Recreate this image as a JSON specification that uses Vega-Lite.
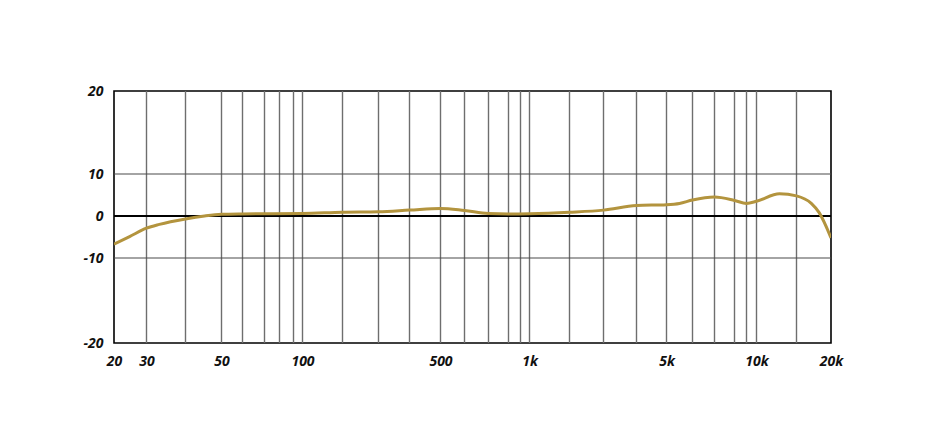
{
  "$schema": "https://vega.github.io/schema/vega-lite/v6.json",
  "autosize": {"type": "none"},
  "padding": {"left": 114, "top": 91, "right": 95, "bottom": 101},
  "width": 717,
  "height": 252,
  "background": "white",
  "config": {
    "view": {"stroke": "black", "strokeWidth": 1.6},
    "axis": {"labelFont": "Open Sans", "labelFontSize": 14, "labelFontWeight": "bold", "labelFontStyle": "italic", "labelColor": "#111", "domain": false, "ticks": false, "grid": false}
  },
  "datasets": {
    "grid": [{"f":30},{"f":40},{"f":50},{"f":60},{"f":70},{"f":80},{"f":90},{"f":100},{"f":200},{"f":300},{"f":400},{"f":500},{"f":600},{"f":700},{"f":800},{"f":900},{"f":1000},{"f":2000},{"f":3000},{"f":4000},{"f":5000},{"f":6000},{"f":7000},{"f":8000},{"f":9000},{"f":10000},{"f":15000}],
    "hgrid": [{"db":10},{"db":-10}],
    "zero": [{"db":0}],
    "curve": [
      {"f":20,"db":-6.7},{"f":24.8,"db":-4.9},{"f":30,"db":-2.9},{"f":33.3,"db":-2.0},{"f":40,"db":-0.7},{"f":45.3,"db":0.0},{"f":50,"db":0.4},{"f":60,"db":0.5},{"f":100,"db":0.6},{"f":200,"db":0.9},{"f":300,"db":1.0},{"f":400,"db":1.4},{"f":500,"db":1.8},{"f":600,"db":1.3},{"f":700,"db":0.6},{"f":800,"db":0.5},{"f":1000,"db":0.55},{"f":2000,"db":0.9},{"f":3000,"db":1.4},{"f":4000,"db":2.5},{"f":5000,"db":2.7},{"f":5500,"db":3.0},{"f":6000,"db":3.8},{"f":7000,"db":4.5},{"f":8000,"db":3.7},{"f":9000,"db":3.0},{"f":10000,"db":3.5},{"f":12875,"db":5.3},{"f":15000,"db":4.8},{"f":17143,"db":3.0},{"f":18286,"db":0.8},{"f":20000,"db":-5.2}
    ]
  },
  "layer": [
    {
      "data": {"name": "curve"},
      "mark": {"type": "line", "color": "#b3943e", "strokeWidth": 3, "interpolate": "monotone", "clip": true, "opacity": 0},
      "encoding": {
        "x": {"field": "f", "type": "quantitative",
          "scale": {"type": "linear", "zero": false, "nice": false,
            "domain": [20,30,40,50,60,70,80,90,100,200,300,400,500,600,700,800,900,1000,2000,3000,4000,5000,6000,7000,8000,9000,10000,15000,20000],
            "range": [0,32.5,71.5,107.5,128.5,150.5,165.5,179.5,188.5,228.5,264.5,295.5,326.5,350.5,374.5,394.5,406.5,415.5,455.5,489.5,522.5,552.5,578.5,600.5,620.5,632.5,642.5,682.5,717]},
          "axis": {"title": null, "values": [20,30,50,100,500,1000,5000,10000,20000], "labelExpr": "datum.value >= 1000 ? (datum.value/1000) + 'k' : '' + datum.value", "labelPadding": 11, "labelFlush": false, "labelOverlap": false}},
        "y": {"field": "db", "type": "quantitative",
          "scale": {"type": "linear", "zero": false, "nice": false, "domain": [-20,-10,0,10,20], "range": [252,167,125,83,0]},
          "axis": {"title": null, "values": [-20,-10,0,10,20], "labelExpr": "'' + datum.value", "labelPadding": 11, "labelOverlap": false, "labelFlush": false}}
      }
    },
    {
      "data": {"name": "grid"},
      "mark": {"type": "rule", "color": "#6e6e6e", "strokeWidth": 1.4},
      "encoding": {
        "x": {"field": "f", "type": "quantitative"}
      }
    },
    {
      "data": {"name": "hgrid"},
      "mark": {"type": "rule", "color": "#4a4a4a", "strokeWidth": 1.2},
      "encoding": {
        "y": {"field": "db", "type": "quantitative"}
      }
    },
    {
      "data": {"name": "zero"},
      "mark": {"type": "rule", "color": "black", "strokeWidth": 2},
      "encoding": {
        "y": {"field": "db", "type": "quantitative"}
      }
    },
    {
      "data": {"name": "curve"},
      "mark": {"type": "line", "color": "#b3943e", "strokeWidth": 3, "interpolate": "monotone", "clip": true},
      "encoding": {
        "x": {"field": "f", "type": "quantitative"},
        "y": {"field": "db", "type": "quantitative"}
      }
    }
  ]
}
